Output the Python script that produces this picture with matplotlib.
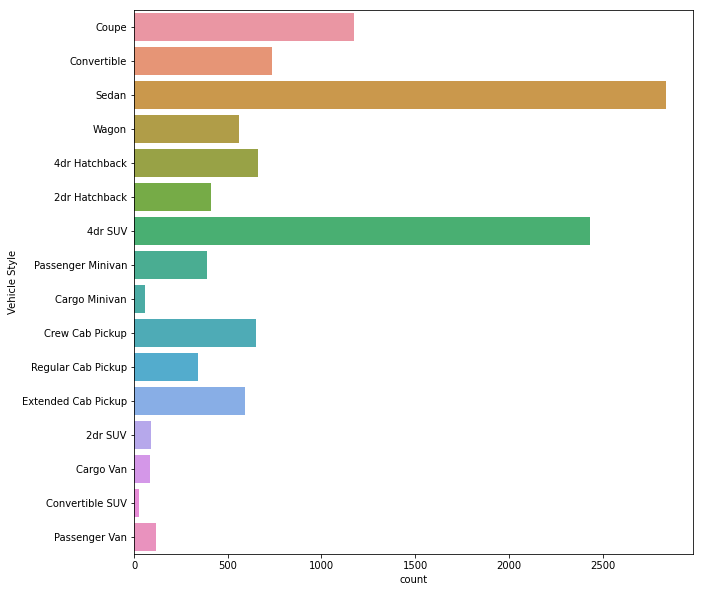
import matplotlib
matplotlib.use("Agg")
import matplotlib.pyplot as plt
import seaborn as sns

styles = ["Coupe", "Convertible", "Sedan", "Wagon", "4dr Hatchback", "2dr Hatchback",
          "4dr SUV", "Passenger Minivan", "Cargo Minivan", "Crew Cab Pickup",
          "Regular Cab Pickup", "Extended Cab Pickup", "2dr SUV", "Cargo Van",
          "Convertible SUV", "Passenger Van"]
counts = [1171, 737, 2840, 561, 663, 411, 2433, 390, 58, 652, 342, 593, 90, 85, 26, 117]

colors = [sns.desaturate(c, 0.75) for c in sns.husl_palette(len(styles), l=.7)]

fig = plt.figure(figsize=(702/72, 592/72), dpi=72)
ax = fig.add_axes([134/702, (592-554)/592, 559/702, 544/592])
y = list(range(len(styles)))
ax.barh(y, counts, height=0.8, color=colors)
ax.set_yticks(y)
ax.set_yticklabels(styles)
ax.set_ylim(len(styles) - 0.5, -0.5)
ax.set_xlim(0, max(counts) * 1.05)
ax.set_xlabel("count")
ax.set_ylabel("Vehicle Style")
fig.savefig("out.png", dpi=72)
